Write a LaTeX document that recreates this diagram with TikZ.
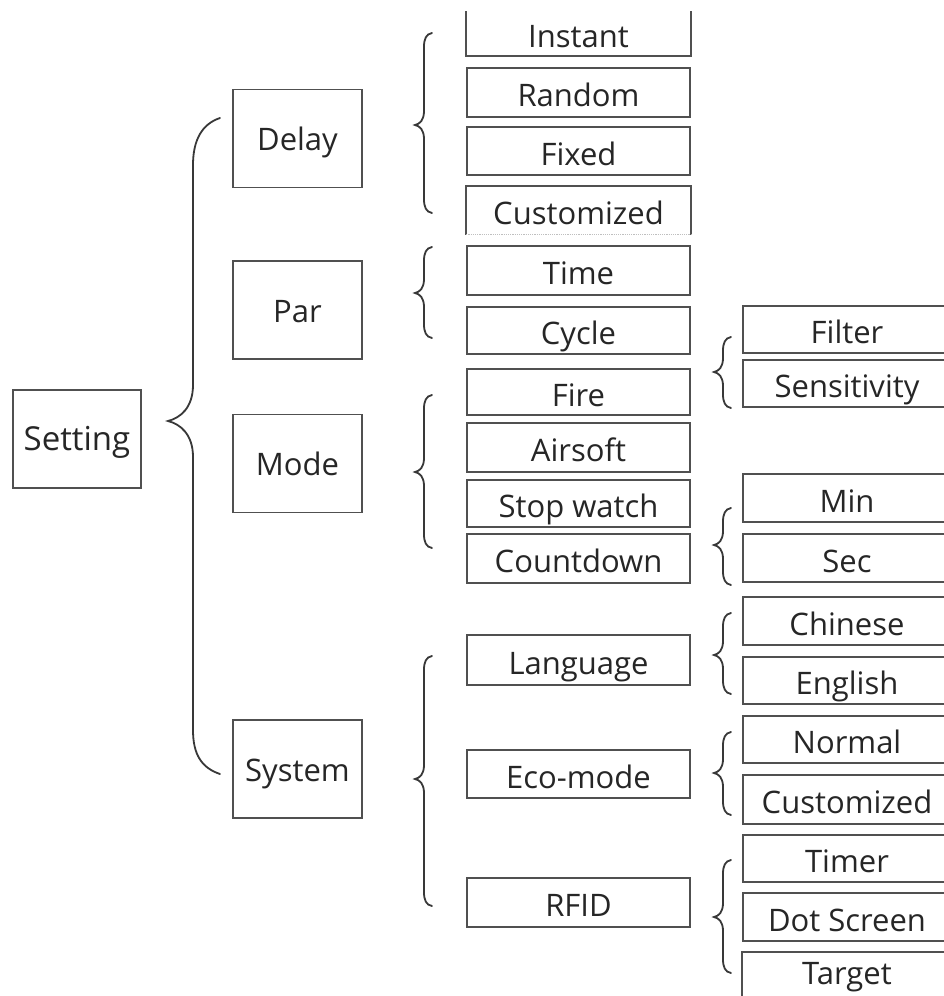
\documentclass[tikz,border=0pt]{standalone}
\usepackage{fontspec}
\setmainfont{Open Sans}
\definecolor{boxc}{HTML}{505050}
\definecolor{txtc}{HTML}{262626}
\definecolor{brc}{HTML}{383838}
\tikzset{
  base/.style={draw=boxc, line width=1.6pt, inner sep=0pt, text=txtc,
    font=\fontsize{31}{31}\selectfont, text height=28pt, text depth=0pt},
  rootbox/.style={base, minimum width=128pt, minimum height=98pt,
    font=\fontsize{33}{33}\selectfont, text height=23.5pt},
  lvA/.style={base, minimum width=129pt, minimum height=98pt, text height=24pt},
  lvB/.style={base, minimum width=223pt, minimum height=48pt},
  lvC/.style={base, minimum width=208pt, minimum height=48pt},
  brace/.style={draw=brc, line width=1.8pt, line cap=round},
  edge/.style={boxc, line width=1.6pt},
}
% small curly brace: vertical x, top y, tip y, bottom y
\newcommand\cbr[4]{%
  \draw[brace] ({#1+8},{#2}) .. controls ({#1+2},{#2+1}) and ({#1},{#2+6}) .. ({#1},{#2+14})
    -- ({#1},{#3-14}) .. controls ({#1},{#3-5}) and ({#1-4},{#3-1}) .. ({#1-9},{#3})
    .. controls ({#1-4},{#3+1}) and ({#1},{#3+5}) .. ({#1},{#3+14})
    -- ({#1},{#4-14}) .. controls ({#1},{#4-6}) and ({#1+2},{#4-1}) .. ({#1+8},{#4});}
\begin{document}
\begin{tikzpicture}[x=1pt,y=-1pt]
\useasboundingbox (0,0) rectangle (944,996);
\fill[white] (0,0) rectangle (944,996);
\clip (0,0) rectangle (944,996);

% root
\node[rootbox] (setting) at (77,439) {Setting};

% level 1
\node[lvA] (delay)  at (297.5,138.5) {Delay};
\node[lvA] (par)    at (297.5,310)   {Par};
\node[lvA] (mode)   at (297.5,463.5) {Mode};
\node[lvA] (system) at (297.5,769)   {System};

% level 2
\node[lvB, draw=none, minimum height=43pt] (instant) at (578.5,33.5) {Instant};
\draw[edge] (instant.north west) -- (instant.south west) -- (instant.south east) -- (instant.north east);
\node[lvB, minimum height=49pt] (random) at (578.5,92.5) {Random};
\node[lvB] (fixed) at (578.5,151) {Fixed};
\node[lvB, draw=none, minimum height=47pt] (custA) at (578.5,210.5) {Customized};
\draw[edge] (custA.south west) -- (custA.north west) -- (custA.north east) -- (custA.south east);
\draw[black!25, line width=1.2pt, densely dotted] (custA.south west) -- (custA.south east);
\node[lvB, minimum height=49pt] (time) at (578.5,270.5) {Time};
\node[lvB, minimum height=47pt] (cycle) at (578.5,330.5) {Cycle};
\node[lvB, minimum height=46pt] (fire) at (578.5,392) {Fire};
\node[lvB, minimum height=49pt] (airsoft) at (578.5,447.5) {Airsoft};
\node[lvB, minimum height=47pt] (stopwatch) at (578.5,503.5) {Stop watch};
\node[lvB, minimum height=49pt] (countdown) at (578.5,558.5) {Countdown};
\node[lvB, minimum height=50pt] (language) at (578.5,660) {Language};
\node[lvB] (eco) at (578.5,774) {Eco-mode};
\node[lvB, minimum height=49pt] (rfid) at (578.5,902.5) {RFID};

% level 3
\node[lvC, minimum height=47pt] (filter) at (847,329.5) {Filter};
\node[lvC, minimum height=47pt] (sens) at (847,383.5) {Sensitivity};
\node[lvC] (min) at (847,498) {Min};
\node[lvC] (sec) at (847,558) {Sec};
\node[lvC] (chinese) at (847,621) {Chinese};
\node[lvC, minimum height=47pt] (english) at (847,680.5) {English};
\node[lvC, minimum height=47pt] (normal) at (847,739.5) {Normal};
\node[lvC, minimum height=49pt] (custB) at (847,799.5) {Customized};
\node[lvC, minimum height=47pt] (timer) at (847,858.5) {Timer};
\node[lvC] (dot) at (847,917) {Dot Screen};
\node[lvC, draw=none, minimum height=34pt] (target) at (847,970) {Target};
\draw[edge] ([yshift=-12pt]target.south west) -- (target.north west) -- (target.north east) -- ([yshift=-12pt]target.south east);

% big brace
\draw[brace] (220,118) .. controls (202,124) and (193,140) .. (193,165)
  -- (193,385) .. controls (193,408) and (180,418) .. (168,421)
  .. controls (180,424) and (193,434) .. (193,457)
  -- (193,730) .. controls (193,755) and (202,768) .. (220,774);

% level-2 braces
\cbr{424}{33}{125}{213}
\cbr{424}{247}{293}{338}
\cbr{424}{395}{472}{548}
\cbr{424}{656}{779}{906}

% level-3 braces
\cbr{723}{337}{372}{408}
\cbr{723}{508}{545}{585}
\cbr{723}{613}{655}{694}
\cbr{723}{732}{773}{815}
\cbr{723}{860}{917}{973}
\end{tikzpicture}
\end{document}
